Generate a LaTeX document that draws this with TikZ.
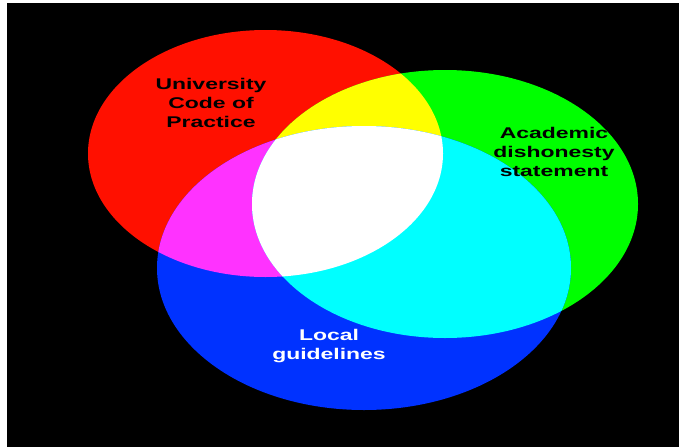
\documentclass[tikz,border=0pt]{standalone}
\usepackage{fontspec}
\setmainfont{Liberation Sans}
\definecolor{vennred}{RGB}{255,16,0}
\definecolor{venngreen}{RGB}{0,255,0}
\definecolor{vennblue}{RGB}{0,50,255}
\definecolor{vennyellow}{RGB}{255,255,0}
\definecolor{vennmagenta}{RGB}{255,50,255}
\definecolor{venncyan}{RGB}{0,255,255}
\tikzset{
  redsize/.style={x radius=177.5, y radius=123.5},
  greensize/.style={x radius=193, y radius=134},
  bluesize/.style={x radius=207, y radius=142},
  label/.style={align=center, xscale=1.48, inner sep=0pt}
}
\begin{document}
\begin{tikzpicture}[x=1pt, y=-1pt, font=\bfseries\fontsize{15.5}{19}\selectfont]
	\useasboundingbox (0,0) rectangle (679,447);
	% 1. Black background
	\fill[black] (7,3) rectangle (679,447);
	% 2. Centres of the three sets
	\coordinate (redc) at (265.5,153.5);
	\coordinate (greenc) at (445,204);
	\coordinate (bluec) at (364,268);
	% 3. The three sets
	\fill[vennred] (redc) ellipse [redsize];
	\fill[venngreen] (greenc) ellipse [greensize];
	\fill[vennblue] (bluec) ellipse [bluesize];
	% 4. Overlaps of two sets
	\begin{scope}
		\clip (redc) ellipse [redsize];
		\fill[vennyellow] (greenc) ellipse [greensize];
		\fill[vennmagenta] (bluec) ellipse [bluesize];
	\end{scope}
	\begin{scope}
		\clip (greenc) ellipse [greensize];
		\fill[venncyan] (bluec) ellipse [bluesize];
	\end{scope}
	% 5. Overlap of all three
	\begin{scope}
		\clip (redc) ellipse [redsize];
		\clip (greenc) ellipse [greensize];
		\fill[white] (bluec) ellipse [bluesize];
	\end{scope}
	% 6. Labels
	\node[label, black] (code) at (211,103) {University\\Code of\\Practice};
	\node[label, black] (honesty) at (554,152) {Academic\\dishonesty\\statement};
	\node[label, white] (local) at (329,346) {Local\\guidelines};
\end{tikzpicture}
\end{document}
